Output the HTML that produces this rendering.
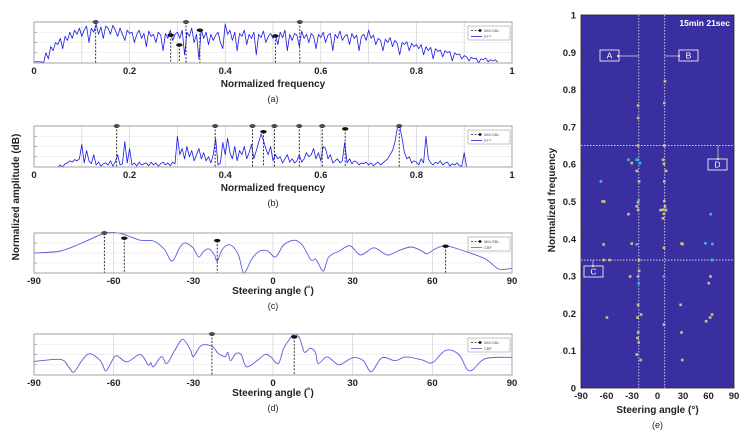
<!DOCTYPE html>
<html><head><meta charset="utf-8">
<style>
html,body{margin:0;padding:0;background:#fff;}
svg{display:block;font-family:"Liberation Sans",sans-serif;}
</style></head>
<body>
<svg id="fig" width="748" height="439" viewBox="0 0 748 439" xmlns="http://www.w3.org/2000/svg">
<text x="0" y="0" transform="translate(19,197) rotate(-90)" text-anchor="middle" font-size="10" font-weight="bold" fill="#222">Normalized amplitude (dB)</text>
</svg>
<script>
// ---------- data ----------
const fftAStep = 0.005;
const fftAValues = [0.03,0.03,0.03,0.03,0.0,
0.25,0.1,0.4,0.3,0.5,0.45,0.6,0.35,0.65,0.55,0.75,0.6,0.8,0.7,0.85,0.65,
0.8,0.9,0.5,0.85,0.75,0.95,0.7,0.88,0.6,0.9,0.85,0.7,0.92,0.8,0.65,0.85,0.7,0.55,0.8,0.72,
0.75,0.5,0.7,0.8,0.6,0.72,0.4,0.78,0.65,0.7,0.5,0.75,0.68,0.3,0.72,0.6,0.8,0.55,0.7,0.75,
0.6,0.8,0.2,0.75,0.65,0.85,0.5,0.7,0.1,0.82,0.6,0.75,0.45,0.7,0.55,0.68,0.75,0.5,0.35,0.95,
0.7,0.8,0.55,0.75,0.3,0.72,0.65,0.8,0.45,0.7,0.6,0.75,0.2,0.7,0.62,0.78,0.5,0.65,0.72,0.6,
0.7,0.45,0.75,0.62,0.8,0.3,0.7,0.55,0.72,0.68,0.4,0.78,0.6,0.7,0.5,0.72,0.65,0.35,0.7,0.62,
0.75,0.5,0.68,0.72,0.3,0.7,0.6,0.78,0.55,0.65,0.7,0.45,0.72,0.6,0.68,0.3,0.65,0.7,0.55,0.8,
0.6,0.68,0.45,0.6,0.55,0.3,0.58,0.5,0.62,0.4,0.55,0.48,0.2,0.5,0.45,0.52,0.3,0.48,0.4,0.45,
0.35,0.45,0.2,0.4,0.3,0.38,0.1,0.35,0.28,0.32,0.15,0.3,0.25,0.28,0.05,0.25,0.2,0.22,0.1,0.18,
0.15,0.05,0.14,0.1,0.12,0.0,0.1,0.08,0.12,0.03,0.08,0.05,0.08,0.02];
const sblAFreq = [0.129,0.286,0.304,0.318,0.347,0.505,0.556];
const sblAAmp  = [1.0,0.68,0.44,1.0,0.8,0.66,1.0];

const fftBStart = 0.05;
const fftBStep = 0.005;
const fftBValues = [0,0.05,0,0.08,0.1,0.15,0.12,0.18,0.15,0.2,0.55,0.1,0.4,0.15,0.08,0.3,0.05,0.12,0.02,0.08,
0.1,0.05,0.15,0.02,0.12,0.3,0.05,0.08,0.62,0.1,0.45,0.05,0.1,0.02,0.12,0.05,0.08,0.1,0.03,0.12,
0.05,0.1,0.02,0.08,0.12,0.05,0.1,0.03,0.12,0.08,0.75,0.3,0.45,0.2,0.5,0.25,0.4,0.15,0.3,0.45,
0.2,0.35,0.15,0.25,0.1,0.3,0.7,0.05,0.1,0.6,0.3,0.7,0.35,0.2,0.5,0.15,0.4,0.3,0.5,0.2,
0.35,0.55,0.2,0.4,0.6,0.8,0.65,0.45,0.3,0.5,0.15,0.3,0.2,0.25,0.1,0.2,0.3,0.12,0.2,0.1,
0.15,0.3,0.12,0.2,0.35,0.25,0.3,0.45,0.2,0.35,0.15,0.5,0.45,0.2,0.3,0.1,0.15,0.2,0.1,0.15,
0.6,0.1,0.2,0.08,0.15,0.12,0.05,0.1,0.08,0.12,0.05,0.1,0.03,0.08,0.12,0.05,0.1,0.15,0.2,0.3,
0.4,0.6,0.95,1.0,0.7,0.35,0.2,0.25,0.1,0.15,0.12,0.05,0.2,0.1,0.75,0.2,0.1,0.05,0.12,0.08,
0.15,0.05,0.1,0.12,0.02,0.08,0.05,0.1,0.03,0.02,0.35,0];
const sblBFreq = [0.173,0.379,0.457,0.48,0.503,0.555,0.603,0.651,0.764];
const sblBAmp  = [1,1,1,0.86,1,1,1,0.93,1];

const cbfCAngle = [-90,-80,-72,-63,-57,-50,-45,-41,-38,-35,-33,-30,-28,-26,-24,-22,-21,-19,-16,-13,-11,-8,-5,-2,1,4,8,11,14,15,16,17,19,21,25,29,33,38,43,47,52,56,58,61,65,72,80,85,90];
const cbfCAmp   = [0.5,0.55,0.75,1.0,0.98,0.82,0.8,0.6,0.3,0.65,0.75,0.62,0.4,0.55,0.6,0.45,0.3,0.6,0.7,0.45,0.0,0.35,0.55,0.55,0.4,0.7,0.82,0.7,0.35,0.32,0.35,0.25,0.05,0.4,0.55,0.68,0.45,0.63,0.45,0.55,0.65,0.55,0.48,0.6,0.68,0.55,0.35,0.1,0.12];
const sblCAngle = [-63.5,-56,-21,65];
const sblCAmp   = [1.0,0.87,0.81,0.67];

const cbfDAngle = [-90,-80,-77,-75,-72,-69,-65,-63,-61,-59,-55,-50,-47,-46,-45,-42,-40,-37,-34,-31,-30,-27,-23,-21,-20,-18,-17,-16,-14,-12,-10,-6,-3,-1,2,4,6,8,10,11,12,14,16,17,20,22,25,30,34,37,41,46,50,56,60,65,70,74,80,90];
const cbfDAmp   = [0.33,0.38,0.2,0.07,0.35,0.52,0.35,0.1,0.3,0.47,0.32,0.5,0.25,0.3,0.2,0.45,0.28,0.6,0.87,0.6,0.45,0.72,0.7,0.55,0.5,0.45,0.55,0.35,0.52,0.5,0.2,0.35,0.5,0.45,0.28,0.65,0.85,1.0,0.9,0.7,0.55,0.65,0.55,0.28,0.44,0.38,0.25,0.42,0.35,0.08,0.42,0.35,0.44,0.37,0.3,0.6,0.5,0.1,0.4,0.43];
const sblDAngle = [-23,8];
const sblDAmp   = [1.0,0.93];

const freqTicks = [0,0.2,0.4,0.6,0.8,1];
const freqTickLabels = ["0","0.2","0.4","0.6","0.8","1"];
const angleTicks = [-90,-60,-30,0,30,60,90];
const angleTickLabels = ["-90","-60","-30","0","30","60","90"];
const eFreqTicks = [0,0.1,0.2,0.3,0.4,0.5,0.6,0.7,0.8,0.9,1];
const eFreqTickLabels = ["0","0.1","0.2","0.3","0.4","0.5","0.6","0.7","0.8","0.9","1"];

const yellowAngle = [8.8,8.0,-22.8,-22.8,-22.8,8.0,-30.3,6.5,7.6,10,-24.4,-21.7,8,-64.6,-62.7,-22.8,8,8.8,6.5,10,3.7,-24.4,-22.8,-34.2,7.6,6.5,-63.4,-30.3,7.6,28.3,29.5,-63.4,-56.4,-21.7,-21.7,-32.2,-22.8,62.3,60.3,-22.8,27.2,-19.3,-23.6,-59.5,7.6,64.2,61.9,57.2,-22.8,-23.6,-22.1,28.3,-24.4,29.1,-19.7];
const yellowFreq  = [0.822,0.764,0.757,0.724,0.65,0.65,0.603,0.612,0.601,0.582,0.582,0.554,0.554,0.5,0.5,0.498,0.501,0.487,0.478,0.477,0.477,0.487,0.477,0.466,0.467,0.455,0.385,0.387,0.376,0.387,0.386,0.343,0.343,0.343,0.314,0.299,0.299,0.299,0.281,0.223,0.223,0.197,0.189,0.189,0.17,0.197,0.189,0.179,0.149,0.134,0.122,0.149,0.09,0.075,0.075];
const cyanAngle = [-34.2,-24.4,-22.8,-20.5,-66.6,-22.1,62.7,-24.4,56.4,64.6,64.2,7.6,-22.1];
const cyanFreq  = [0.612,0.612,0.612,0.603,0.554,0.503,0.466,0.385,0.388,0.386,0.343,0.299,0.281];
const refAngles = [-22,8.5];
const refFreqs = [0.65,0.343];

// ---------- helpers ----------
const NS = "http://www.w3.org/2000/svg";
const svg = document.getElementById("fig");
function mk(tag, attrs, parent){
  const e = document.createElementNS(NS, tag);
  for (const k in attrs) e.setAttribute(k, attrs[k]);
  (parent||svg).appendChild(e);
  return e;
}
function linScale(d0,d1,r0,r1){ return v => r0 + (v-d0)/(d1-d0)*(r1-r0); }
function smoothPath(pts){
  let d = "M"+pts[0][0].toFixed(2)+","+pts[0][1].toFixed(2);
  for (let i=0;i<pts.length-1;i++){
    const p0=pts[Math.max(0,i-1)], p1=pts[i], p2=pts[i+1], p3=pts[Math.min(pts.length-1,i+2)];
    const c1=[p1[0]+(p2[0]-p0[0])/6, p1[1]+(p2[1]-p0[1])/6];
    const c2=[p2[0]-(p3[0]-p1[0])/6, p2[1]-(p3[1]-p1[1])/6];
    d += "C"+c1[0].toFixed(2)+","+c1[1].toFixed(2)+" "+c2[0].toFixed(2)+","+c2[1].toFixed(2)+" "+p2[0].toFixed(2)+","+p2[1].toFixed(2);
  }
  return d;
}

function panel(cfg){
  const g = mk("g",{});
  
  
  const X = linScale(cfg.d0,cfg.d1,cfg.x0,cfg.x1);
  const Y = linScale(0,1,cfg.y1,cfg.y0);
  // grid
  cfg.grid.forEach(v=>{
    const l = mk("line",{x1:X(v),x2:X(v),y1:cfg.y0,y2:cfg.y1,stroke:"#d0d0d0","stroke-width":0.7},g);
    
    
  });
  [0.25,0.5,0.75].forEach(v=>{
    const l = mk("line",{x1:cfg.x0,x2:cfg.x1,y1:Y(v),y2:Y(v),stroke:"#e4e4e4","stroke-width":0.6},g);
    
    
    const t = mk("line",{x1:cfg.x0,x2:cfg.x0+3,y1:Y(v),y2:Y(v),stroke:"#777","stroke-width":0.6},g);
    
    
  });
  // series
  const pts = cfg.sx.map((v,i)=>[X(v),Y(cfg.sy[i])]);
  let d;
  if (cfg.smooth) d = smoothPath(pts);
  else d = "M"+pts.map(p=>p[0].toFixed(2)+","+p[1].toFixed(2)).join("L");
  const cp = mk("clipPath",{id:"clip-"+cfg.name},g);
  mk("rect",{x:cfg.x0,y:cfg.y0-1,width:cfg.x1-cfg.x0,height:cfg.y1-cfg.y0+1},cp);
  const line = mk("path",{d:d,fill:"none",stroke:cfg.color,"stroke-width":cfg.sw,"clip-path":"url(#clip-"+cfg.name+")","stroke-linejoin":"round"},g);
  
  
  // sbl markers
  cfg.mx.forEach((v,i)=>{
    const stem = mk("line",{x1:X(v),x2:X(v),y1:Y(cfg.my[i]),y2:cfg.y1,stroke:"#222","stroke-width":0.9,"stroke-dasharray":"2,1.5"},g);
    
    
    const m = mk("ellipse",{cx:X(v),cy:Y(cfg.my[i]),rx:3.2,ry:1.7,fill:"#111"},g);
    
    
  });
  // frame
  const fr = mk("rect",{x:cfg.x0,y:cfg.y0,width:cfg.x1-cfg.x0,height:cfg.y1-cfg.y0,fill:"none",stroke:"#999","stroke-width":0.9},g);
  
  
  // ticks
  cfg.ticks.forEach((v,i)=>{
    const t = mk("text",{x:X(v),y:cfg.y1+11,"text-anchor":"middle","font-size":9.5,"font-weight":"bold",fill:"#222"},g);
    t.textContent = cfg.tickLabels[i];
    
    
  });
  const cx = (cfg.x0+cfg.x1)/2;
  const tt = mk("text",{x:cx,y:cfg.y1+cfg.titleDy,"text-anchor":"middle","font-size":10,"font-weight":"bold",fill:"#222"},g);
  tt.textContent = cfg.title;
  
  
  const cap = mk("text",{x:cx,y:cfg.y1+cfg.titleDy+15,"text-anchor":"middle","font-size":9,fill:"#222"},g);
  cap.textContent = cfg.caption;
  
  
  // legend
  const lg = mk("g",{},g);
  
  
  const lx = 468, ly = cfg.y0+4;
  mk("rect",{x:lx,y:ly,width:42,height:14,fill:"#fff",stroke:"#888","stroke-width":0.5},lg);
  mk("line",{x1:lx+3,x2:lx+14,y1:ly+4.5,y2:ly+4.5,stroke:"#222","stroke-width":0.8,"stroke-dasharray":"2,1.5"},lg);
  mk("circle",{cx:lx+12,cy:ly+4.5,r:1.4,fill:"#111"},lg);
  const l1 = mk("text",{x:lx+16,y:ly+6,"font-size":4,fill:"#555"},lg); l1.textContent="MM-SBL";
  
  
  mk("line",{x1:lx+3,x2:lx+14,y1:ly+10.5,y2:ly+10.5,stroke:cfg.color,"stroke-width":0.8},lg);
  const l2 = mk("text",{x:lx+16,y:ly+12,"font-size":4,fill:"#555"},lg); l2.textContent=cfg.seriesLabel;
  
  
}

const gridFreq = [0.1,0.2,0.3,0.4,0.5,0.6,0.7,0.8,0.9];
const gridAng = [-60,-30,0,30,60];

panel({name:"panel-a",x0:34,x1:512,y0:22,y1:63,d0:0,d1:1,grid:gridFreq,
  sx:fftAValues.map((v,i)=>i*fftAStep), sy:fftAValues, smooth:false, color:"#1a1ae6", sw:0.8,
  mx:sblAFreq,my:sblAAmp,ticks:freqTicks,tickLabels:freqTickLabels,title:"Normalized frequency",titleDy:24,caption:"(a)",seriesName:"fft-line",seriesLabel:"FFT"});
panel({name:"panel-b",x0:34,x1:512,y0:126,y1:167,d0:0,d1:1,grid:gridFreq,
  sx:fftBValues.map((v,i)=>fftBStart+i*fftBStep), sy:fftBValues, smooth:false, color:"#1a1ae6", sw:0.8,
  mx:sblBFreq,my:sblBAmp,ticks:freqTicks,tickLabels:freqTickLabels,title:"Normalized frequency",titleDy:24,caption:"(b)",seriesName:"fft-line",seriesLabel:"FFT"});
panel({name:"panel-c",x0:34,x1:512,y0:233,y1:273,d0:-90,d1:90,grid:gridAng,
  sx:cbfCAngle, sy:cbfCAmp, smooth:true, color:"#5a5ae0", sw:0.9,
  mx:sblCAngle,my:sblCAmp,ticks:angleTicks,tickLabels:angleTickLabels,title:"Steering angle (˚)",titleDy:21,caption:"(c)",seriesName:"cbf-line",seriesLabel:"CBF"});
panel({name:"panel-d",x0:34,x1:512,y0:334,y1:375,d0:-90,d1:90,grid:gridAng,
  sx:cbfDAngle, sy:cbfDAmp, smooth:true, color:"#5a5ae0", sw:0.9,
  mx:sblDAngle,my:sblDAmp,ticks:angleTicks,tickLabels:angleTickLabels,title:"Steering angle (˚)",titleDy:21,caption:"(d)",seriesName:"cbf-line",seriesLabel:"CBF"});

// ---------- panel e ----------
(function(){
  const x0=581,x1=734,y0=15,y1=388;
  const X = linScale(-90,90,x0,x1), Y = linScale(0,1,y1,y0);
  const g = mk("g",{});
  
  
  const bg = mk("rect",{x:x0,y:y0,width:x1-x0,height:y1-y0,fill:"#3a2fa0",stroke:"#222","stroke-width":0.8},g);
  
  
  eFreqTicks.forEach((v,i)=>{
    const t = mk("text",{x:x0-5,y:Y(v)+3.5,"text-anchor":"end","font-size":9.5,"font-weight":"bold",fill:"#222"},g);
    t.textContent = eFreqTickLabels[i];
    
    
    mk("line",{x1:x0,x2:x0+2,y1:Y(v),y2:Y(v),stroke:"#222","stroke-width":0.6},g);
  });
  angleTicks.forEach((v,i)=>{
    const t = mk("text",{x:X(v),y:y1+11,"text-anchor":"middle","font-size":9.5,"font-weight":"bold",fill:"#222"},g);
    t.textContent = angleTickLabels[i];
    
    
  });
  const xt = mk("text",{x:(x0+x1)/2,y:y1+25,"text-anchor":"middle","font-size":10,"font-weight":"bold",fill:"#222"},g);
  xt.textContent = "Steering angle (°)";
  
  
  const cap = mk("text",{x:(x0+x1)/2,y:y1+40,"text-anchor":"middle","font-size":9,fill:"#222"},g);
  cap.textContent = "(e)";
  
  
  const yt = mk("text",{x:0,y:0,transform:"translate(555,200) rotate(-90)","text-anchor":"middle","font-size":10,"font-weight":"bold",fill:"#222"},g);
  yt.textContent = "Normalized frequency";
  
  
  refAngles.forEach(v=>{
    const l = mk("line",{x1:X(v),x2:X(v),y1:y0,y2:y1,stroke:"#e8e8e8","stroke-width":0.8,"stroke-dasharray":"1.5,1.5"},g);
    
    
  });
  refFreqs.forEach(v=>{
    const l = mk("line",{x1:x0,x2:x1,y1:Y(v),y2:Y(v),stroke:"#e8e8e8","stroke-width":0.8,"stroke-dasharray":"1.5,1.5"},g);
    
    
  });
  yellowAngle.forEach((a,i)=>{
    const c = mk("rect",{x:X(a)-1.3,y:Y(yellowFreq[i])-1.3,width:2.6,height:2.6,fill:"#c9c47a"},g);
    
    
  });
  cyanAngle.forEach((a,i)=>{
    const c = mk("circle",{cx:X(a),cy:Y(cyanFreq[i]),r:1.5,fill:"#3aaee6"},g);
    
    
  });
  const tm = mk("text",{x:730,y:26,"text-anchor":"end","font-size":8.5,"font-weight":"bold",fill:"#fff"},g);
  tm.textContent = "15min 21sec";
  
  
  // annotation boxes
  const ann = [
    {t:"A",bx:600,by:50,ax1:X(-22),ay1:56,ax2:618,ay2:56},
    {t:"B",bx:679,by:50,ax1:X(8.5),ay1:56,ax2:679,ay2:56},
    {t:"C",bx:584,by:266,ax1:593,ay1:Y(0.343),ax2:593,ay2:266},
    {t:"D",bx:708,by:159,ax1:718,ay1:Y(0.65),ax2:718,ay2:159}
  ];
  ann.forEach(o=>{
    const ag = mk("g",{},g);
    
    
    mk("line",{x1:o.ax1,y1:o.ay1,x2:o.ax2,y2:o.ay2,stroke:"#ddd","stroke-width":0.7},ag);
    mk("circle",{cx:o.ax2,cy:o.ay2,r:1,fill:"#fff"},ag);
    mk("rect",{x:o.bx,y:o.by,width:19,height:11,fill:"none",stroke:"#eee","stroke-width":0.9},ag);
    const t = mk("text",{x:o.bx+9.5,y:o.by+8.7,"text-anchor":"middle","font-size":8.5,fill:"#fff"},ag);
    t.textContent = o.t;
  });
})();
</script>
</body></html>
